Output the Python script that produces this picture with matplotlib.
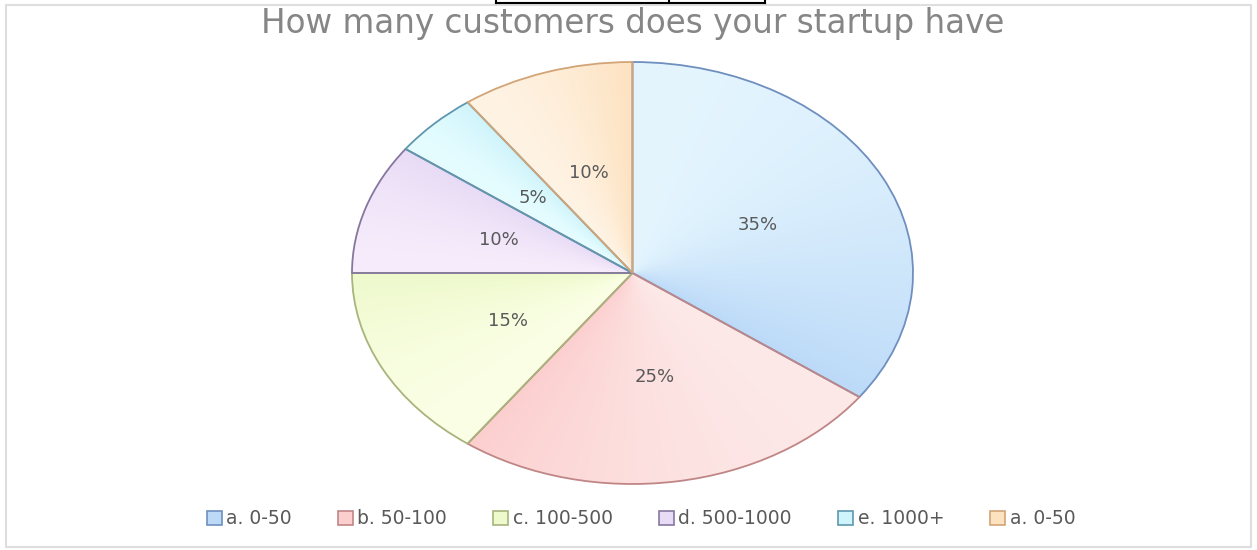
import numpy as np
import matplotlib
matplotlib.use("Agg")
import matplotlib.pyplot as plt
from matplotlib.patches import Circle, Rectangle
from matplotlib.lines import Line2D
from matplotlib.colors import to_rgb

# customer-count buckets and share of startups (%)
labels = ["a. 0-50", "b. 50-100", "c. 100-500", "d. 500-1000", "e. 1000+", "a. 0-50"]
shares = [35, 25, 15, 10, 5, 10]

# light/dark gradient ends and outline colour per slice
light = ["#e4f5fe", "#fde9e8", "#fbffe6", "#f6ecfb", "#e6fdff", "#fff3e4"]
dark = ["#bcdaf8", "#fccfcf", "#eef9cc", "#e8dbf6", "#cff4fb", "#fde2c0"]
edges = ["#6f8fbf", "#c08686", "#a8b47c", "#86779f", "#5f98ad", "#d2a477"]

W, H = 1257, 550
fig = plt.figure(figsize=(W / 100, H / 100), dpi=100, facecolor="white")

# pie is stretched horizontally, so the axes are sized to the ellipse
cx, cy, rx, ry = 632.5, 273, 280.5, 211
ax = fig.add_axes([(cx - rx) / W, (H - cy - ry) / H, 2 * rx / W, 2 * ry / H])

# gradient fill: each slice darkens along its clockwise sweep
n = 700
xs = np.linspace(-1, 1, n)
gx, gy = np.meshgrid(xs, xs)
theta = np.degrees(np.arctan2(gy, gx))
sweep = np.mod(90 - theta, 360) / 360 * sum(shares)
bounds = np.cumsum([0] + shares)
idx = np.clip(np.searchsorted(bounds, sweep, side="right") - 1, 0, len(shares) - 1)
t = (sweep - bounds[idx]) / np.array(shares)[idx]
t = t ** 1.8
lo = np.array([to_rgb(c) for c in light])[idx]
hi = np.array([to_rgb(c) for c in dark])[idx]
img = lo + (hi - lo) * t[..., None]

im = ax.imshow(img, extent=(-1, 1, -1, 1), origin="lower", aspect="auto",
               interpolation="bilinear", zorder=0)
clip = Circle((0, 0), 1, transform=ax.transData)
im.set_clip_path(clip)

wedges, _, autotexts = ax.pie(
    shares, startangle=90, counterclock=False, autopct="%.0f%%",
    pctdistance=0.5, colors=["none"] * len(shares),
    wedgeprops=dict(linewidth=1.3),
    textprops=dict(color="#595959", fontsize=13),
)
for w, ec in zip(wedges, edges):
    w.set_edgecolor(ec)
    w.set_clip_on(False)

ax.set_aspect("auto")
ax.set_xlim(-1, 1)
ax.set_ylim(-1, 1)
ax.axis("off")

fig.text(cx / W, 1 - 24 / H, "How many customers does your startup have",
         ha="center", va="center", fontsize=23.5, color="#868686")

handles = [Rectangle((0, 0), 1, 1, facecolor=d, edgecolor=e, linewidth=1.2)
           for d, e in zip(dark, edges)]
fig.legend(handles, labels, loc="center", bbox_to_anchor=(641 / W, 1 - 519 / H),
           ncol=6, frameon=False, fontsize=13.5, labelcolor="#595959",
           handlelength=0.8, handleheight=0.8, handletextpad=0.25,
           columnspacing=2.45)

# outer frame and the table lines cut off at the top edge
fig.add_artist(Rectangle((6 / W, 3 / H), 1245 / W, 542 / H, transform=fig.transFigure,
                         fill=False, edgecolor="#dedede", linewidth=1.5))
for xp in (496, 669, 765):
    fig.add_artist(Line2D([xp / W, xp / W], [1 - 3 / H, 1], color="black", lw=1.5))
fig.add_artist(Line2D([496 / W, 765 / W], [1 - 3 / H, 1 - 3 / H], color="black", lw=1.5))

fig.savefig("out.png", dpi=100, facecolor="white")
